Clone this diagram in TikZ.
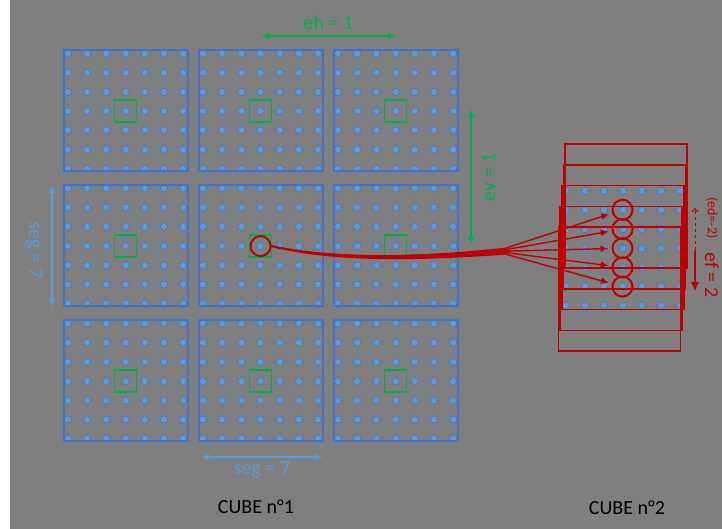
\documentclass[tikz,border=0pt]{standalone}
\usepackage{fontspec}
\setmainfont{Carlito}
\usepackage{tikz}
\usetikzlibrary{arrows.meta}
\definecolor{bg}{HTML}{7F7F7F}
\definecolor{gridblue}{HTML}{4472C4}
\definecolor{dotblue}{HTML}{5B9BD5}
\definecolor{green}{HTML}{00B050}
\definecolor{red}{HTML}{C00000}

\begin{document}
\begin{tikzpicture}[x=1pt,y=-1pt,every node/.style={font=\fontsize{20}{22}\selectfont,inner sep=0pt},
    dimarrow/.style={{Latex[length=8pt,width=7pt]}-{Latex[length=8pt,width=7pt]},line width=2},
    dot/.style={fill=dotblue,draw=gridblue,line width=.5},
    ring/.style={circle,draw=red,line width=2,minimum size=20pt}]
      \useasboundingbox (0,0) rectangle (722,529);
      \fill[bg] (10,0) rectangle (722,529);
      % cube 1: nine segments of 7 x 7 points
      \foreach \i in {0,1,2} \foreach \j in {0,1,2} {
        \foreach \a in {0,...,6} \foreach \b in {0,...,6}
          \filldraw[dot] (68+135*\i+19.2*\a,53.5+135*\j+19.2*\b) circle (3.6);
        \draw[gridblue,line width=1.6] (64+135*\i,50+135*\j) rectangle +(124,121);
        \draw[green,line width=1.6] (125.6+135*\i,111.1+135*\j) +(-11,-11) rectangle +(11,11);
      }
      \node[ring] (rc) at (260.6,246.1) {};
      % cube 2: stacked frames
      \foreach \a in {0,...,6} \foreach \b in {0,...,6}
        \filldraw[dot] (566+19*\a,191+19.1*\b) circle (3.6);
      \foreach \k in {0,...,4}
        \draw[red,line width=1.5] (565-1.6*\k,144+20.8*\k) rectangle +(122,124);
      \foreach \k in {1,...,5} {
        \node[ring] (c\k) at (622.5,190.6+19.2*\k) {};
        \coordinate (s\k) at (505,247+1.4*\k);
        \draw[red,line width=1.4,-{Latex[length=8pt,width=7pt]},shorten >=3pt]
          (rc.east) .. controls (340,259.5+.8*\k) and (430,256+.6*\k) .. (s\k) -- (c\k);
      }
      % steps
      \coordinate (eh1) at (261,36); \coordinate (eh2) at (396,36);
      \draw[dimarrow,green] (eh1) -- (eh2) node[midway,above=5pt,text=green] (eh) {eh = 1};
      \coordinate (ev1) at (471,109); \coordinate (ev2) at (471,245);
      \draw[dimarrow,green] (ev1) -- (ev2);
      \node[text=green,rotate=90] (ev) at (489,177) {ev = 1};
      \coordinate (sv1) at (52,185); \coordinate (sv2) at (52,307);
      \draw[dimarrow,dotblue] (sv1) -- (sv2);
      \node[text=dotblue,rotate=-90] (segv) at (34,250) {seg = 7};
      \coordinate (sh1) at (201,457); \coordinate (sh2) at (323,457);
      \draw[dimarrow,dotblue] (sh1) -- (sh2);
      \node[text=dotblue] (segh) at (262,470) {seg = 7};
      \coordinate (ed1) at (695,250); \coordinate (ed2) at (695,208);
      \draw[red,line width=1,dashed,-{To[length=4pt,width=7pt]}] (ed1) -- (ed2);
      \coordinate (ef2) at (695,291);
      \draw[red,line width=2.5,-{Latex[length=9pt,width=9pt]}] (ed1) -- (ef2);
      \node[text=red,rotate=-90,font=\fontsize{14}{16}\selectfont] (ed) at (712,218) {(ed=-2)};
      \node[text=red,rotate=-90] (ef) at (712,275) {ef = 2};
      \node (cube1) at (256,507) {CUBE n°1};
      \node (cube2) at (627,508) {CUBE n°2};
    \end{tikzpicture}
\end{document}
